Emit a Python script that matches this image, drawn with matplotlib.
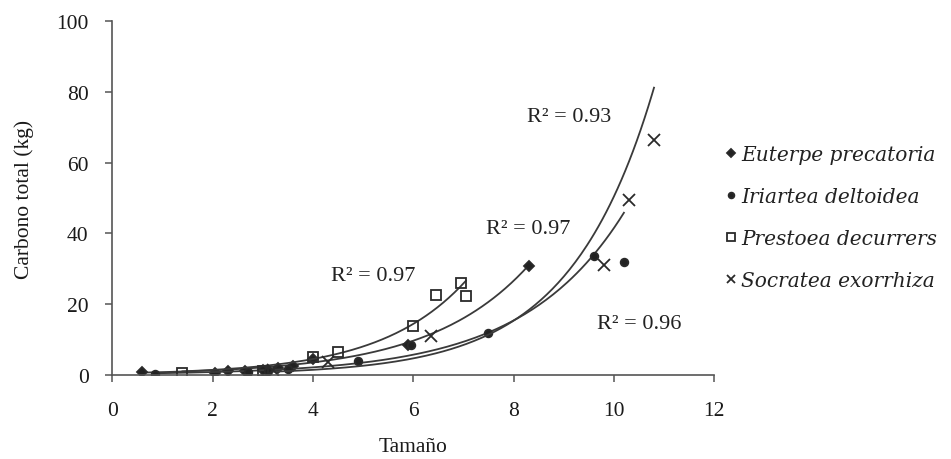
import numpy as np
import matplotlib.pyplot as plt

# Carbono total vs tamaño para cuatro especies de palmas

species = ["Euterpe precatoria", "Iriartea deltoidea", "Prestoea decurrens", "Socratea exorrhiza"]
legend_labels = ["Euterpe precatoria", "Iriartea deltoidea", "Prestoea decurrers", "Socratea exorrhiza"]

euterpe_x = [0.6, 2.05, 2.3, 2.65, 3.0, 3.3, 3.6, 4.0, 5.9, 8.3]
euterpe_y = [0.8, 0.6, 1.0, 1.2, 1.4, 1.8, 2.5, 4.5, 8.5, 30.8]

iriartea_x = [0.85, 2.7, 3.1, 3.5, 4.9, 5.95, 7.5, 9.6, 10.2]
iriartea_y = [0.2, 0.8, 1.0, 1.6, 4.0, 8.5, 11.8, 33.5, 32.0]

prestoea_x = [1.4, 3.0, 4.0, 4.5, 6.0, 6.45, 6.95, 7.05]
prestoea_y = [0.4, 1.2, 5.0, 6.5, 13.8, 22.5, 26.0, 22.2]

socratea_x = [3.2, 4.3, 6.35, 9.8, 10.3, 10.8]
socratea_y = [1.5, 3.5, 11.0, 31.0, 49.5, 66.5]

# exponential trendlines y = a*exp(b*x)
fit_a = [0.46, 0.288, 0.43, 0.13]
fit_b = [0.507, 0.497, 0.585, 0.596]
r2_text = ["R² = 0.97", "R² = 0.96", "R² = 0.97", "R² = 0.93"]
r2_pos = [(8.3, 41.5), (10.5, 14.5), (5.2, 28.0), (9.1, 73.0)]

xs = [euterpe_x, iriartea_x, prestoea_x, socratea_x]
ys = [euterpe_y, iriartea_y, prestoea_y, socratea_y]
markers = ["D", "o", "s", "x"]
msizes = [5, 5.5, 7, 8]
fills = ["#222222", "#222222", "none", "#333333"]

ink = "#2a2a2a"
plt.rcParams['font.family'] = ['Liberation Serif', 'DejaVu Serif']

fig = plt.figure(figsize=(9.51, 4.6), dpi=100)
ax = fig.add_axes([0.118, 0.183, 0.633, 0.769])

for i in range(4):
    x = np.array(xs[i])
    y = np.array(ys[i])
    xx = np.linspace(x.min(), x.max(), 200)
    ax.plot(xx, fit_a[i] * np.exp(fit_b[i] * xx), color="#3a3a3a", lw=1.3)
    ax.plot(x, y, linestyle="none", marker=markers[i], ms=msizes[i],
            mfc=fills[i], mec=ink, mew=1.3, color=ink, label=legend_labels[i])

for txt, (tx, ty) in zip(r2_text, r2_pos):
    ax.text(tx, ty, txt, fontsize=16, ha="center", va="center", color="#222222")

ax.set_xlim(0, 12)
ax.set_ylim(0, 100)
ax.set_xticks(range(0, 13, 2))
ax.set_yticks(range(0, 101, 20))
for s in ["top", "right"]:
    ax.spines[s].set_visible(False)
for s in ["left", "bottom"]:
    ax.spines[s].set_color("#555555")
    ax.spines[s].set_linewidth(1.2)
ax.tick_params(direction="out", length=5, width=1.1, color="#555555",
               labelsize=15.5, labelcolor="#1a1a1a")
ax.tick_params(axis="x", pad=14)
ax.tick_params(axis="y", pad=12)
ax.set_xlabel("Tamaño", fontsize=15.5, color="#1a1a1a", labelpad=12)
ax.set_ylabel("Carbono total (kg)", fontsize=15.5, color="#1a1a1a", labelpad=16)

leg = ax.legend(loc="center left", bbox_to_anchor=(1.0, 0.445), frameon=False,
                handlelength=0.5, handletextpad=0.25, labelspacing=1.15,
                borderaxespad=0.2, markerscale=0.75,
                prop={"family": "DejaVu Serif", "style": "italic", "size": 14.5})
for t in leg.get_texts():
    t.set_color("#222222")

fig.savefig("out.png", dpi=100)
